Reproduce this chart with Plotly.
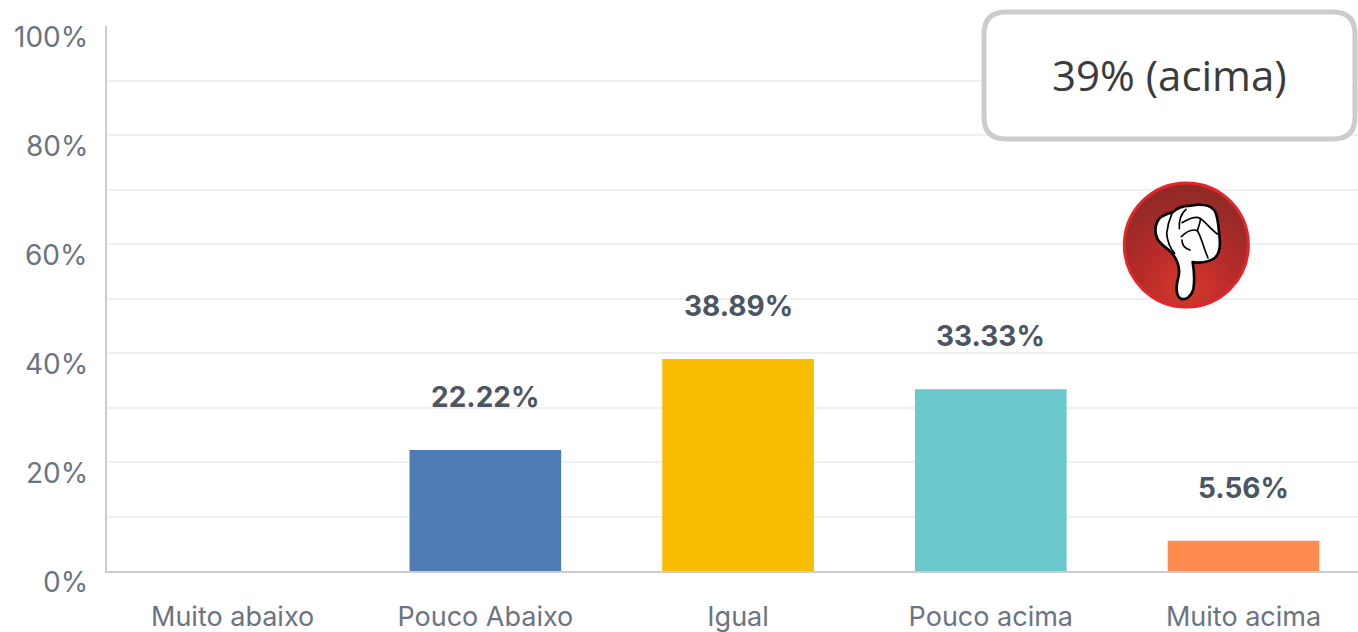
import base64
import plotly.graph_objects as go

categories = ["Muito abaixo", "Pouco Abaixo", "Igual", "Pouco acima", "Muito acima"]
values = [0, 22.22, 38.89, 33.33, 5.56]
bar_colors = ["#507cb6", "#507cb6", "#f9be00", "#6bc8cd", "#ff8b4f"]
value_labels = ["", "22.22%", "38.89%", "33.33%", "5.56%"]
y_tick_values = [0, 20, 40, 60, 80, 100]
y_tick_labels = ["0%", "20%", "40%", "60%", "80%", "100%"]
callout_text = "39% (acima)"

W, H = 1358, 632
L, R, T, B = 107, 1358, 26, 571
FONT = "Inter, Noto Sans, sans-serif"


def px(x):
    return (x - L) / (R - L)


def py(y):
    return (B - y) / (B - T)


icon_svg = """<svg xmlns="http://www.w3.org/2000/svg" width="510" height="450" viewBox="0 0 510 450">
<defs><radialGradient id="g" cx="50%" cy="85%" r="80%">
<stop offset="0" stop-color="#d63a2a"/><stop offset="0.45" stop-color="#b92b2b"/><stop offset="1" stop-color="#8f2a26"/>
</radialGradient></defs>
<circle cx="259" cy="225" r="186" fill="url(#g)" stroke="#e2262a" stroke-width="9"/>
<path d="M243 386 C228 380 226 350 236 318 C240 295 232 268 214 247 C200 232 182 226 172 206 C160 180 168 148 188 138 C198 132 210 128 218 127 C228 116 250 108 272 107 C300 102 330 104 344 122 C354 140 356 170 358 196 C362 224 358 252 344 264 C326 276 300 280 278 276 C282 300 284 335 280 358 C274 378 258 392 243 386 Z"
 fill="#fff" stroke="#000" stroke-width="8" stroke-linejoin="round"/>
<g fill="none" stroke="#000" stroke-width="5" stroke-linecap="round">
<path d="M216 130 C208 148 203 165 200 190 C202 212 208 232 224 250"/>
<path d="M258 118 C244 130 236 146 238 176"/>
<path d="M246 158 C265 148 285 136 302 146 C318 158 335 180 352 192"/>
<path d="M244 200 C258 186 276 176 292 182 C304 200 306 220 324 264"/>
<path d="M246 210 C246 225 256 236 270 240"/>
<path d="M302 146 C300 160 296 170 292 182"/>
</g></svg>"""
icon_uri = "data:image/svg+xml;base64," + base64.b64encode(icon_svg.encode()).decode()

fig = go.Figure(
    go.Bar(
        x=categories,
        y=values,
        marker=dict(color=bar_colors, line_width=0),
        width=0.6,
        hoverinfo="skip",
    )
)

annotations = []
for cat, v, lab in zip(categories, values, value_labels):
    if lab:
        annotations.append(dict(
            x=cat, y=v, xref="x", yref="y", text=lab, showarrow=False,
            yshift=53, font=dict(family=FONT, size=28, color="#4b5563", weight="bold"),
        ))
for v, lab in zip(y_tick_values, y_tick_labels):
    annotations.append(dict(
        x=0, y=v, xref="paper", yref="y", text=lab, showarrow=False,
        xanchor="right", xshift=-17, yshift=-11,
        font=dict(family=FONT, size=28, color="#6b7480"),
    ))
annotations.append(dict(
    x=px(1169), y=py(75), xref="paper", yref="paper", text=callout_text, showarrow=False,
    xanchor="center", yanchor="middle",
    font=dict(family="Open Sans, Lato, sans-serif", size=42, color="#3b3b3b"),
))

x0, x1, y0, y1, r = 984, 1355, 12, 139, 22
path = (
    f"M {px(x0 + r)} {py(y0)} L {px(x1 - r)} {py(y0)} Q {px(x1)} {py(y0)} {px(x1)} {py(y0 + r)} "
    f"L {px(x1)} {py(y1 - r)} Q {px(x1)} {py(y1)} {px(x1 - r)} {py(y1)} "
    f"L {px(x0 + r)} {py(y1)} Q {px(x0)} {py(y1)} {px(x0)} {py(y1 - r)} "
    f"L {px(x0)} {py(y0 + r)} Q {px(x0)} {py(y0)} {px(x0 + r)} {py(y0)} Z"
)

fig.update_layout(
    width=W, height=H, autosize=False,
    margin=dict(l=L, r=W - R, t=T, b=H - B, pad=0),
    paper_bgcolor="#ffffff", plot_bgcolor="#ffffff",
    showlegend=False,
    xaxis=dict(
        type="category", range=[-0.497, 4.453], showgrid=False, zeroline=False, automargin=False,
        showline=True, linecolor="#c9ccd0", linewidth=2, ticks="", ticklabelstandoff=21,
        tickfont=dict(family=FONT, size=27, color="#6b7480"),
    ),
    yaxis=dict(
        range=[0, 100], tick0=0, dtick=10, showgrid=True, gridcolor="#eff0f1", gridwidth=2,
        zeroline=False, showline=True, linecolor="#c9ccd0", linewidth=2, automargin=False,
        ticks="", showticklabels=False,
    ),
    annotations=annotations,
    shapes=[dict(
        type="path", xref="paper", yref="paper", path=path,
        fillcolor="#ffffff", line=dict(color="#cccccc", width=5), layer="above",
    )],
    images=[dict(
        source=icon_uri, xref="paper", yref="paper", x=px(1100), y=py(170),
        sizex=170 / (R - L), sizey=150 / (B - T), xanchor="left", yanchor="top",
        sizing="stretch", layer="above",
    )],
)

fig.write_html(
    "out.html",
    config=dict(displayModeBar=False),
    post_script="document.body.style.margin='0';document.body.style.overflow='hidden';",
)
